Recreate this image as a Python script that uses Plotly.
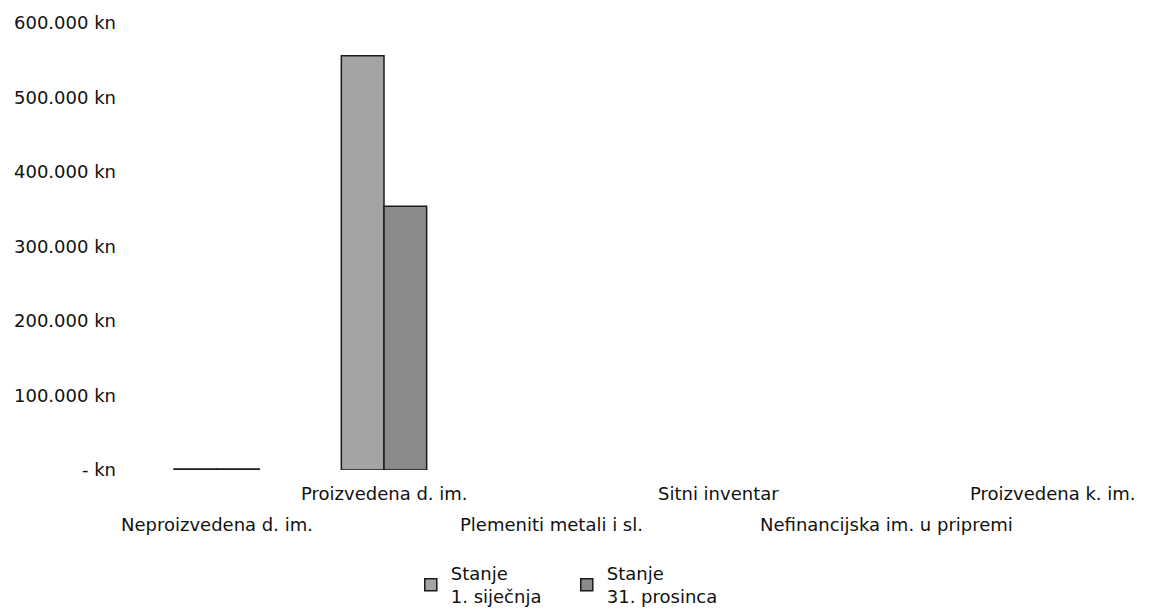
import plotly.graph_objects as go

categories = ["Neproizvedena d. im.", "Proizvedena d. im.", "Plemeniti metali i sl.",
              "Sitni inventar", "Nefinancijska im. u pripremi", "Proizvedena k. im."]
series_names = ["Stanje<br>1. siječnja", "Stanje<br>31. prosinca"]
values_start = [1500, 556000, None, None, None, None]
values_end = [1500, 354000, None, None, None, None]
y_tick_vals = [0, 100000, 200000, 300000, 400000, 500000, 600000]
y_tick_text = ["- kn", "100.000 kn", "200.000 kn", "300.000 kn", "400.000 kn", "500.000 kn", "600.000 kn"]

FONT = "DejaVu Sans"
font = dict(family=FONT, size=18, color="#111111")

fig = go.Figure()
fig.add_trace(go.Bar(x=categories, y=values_start, name=series_names[0],
                     marker=dict(color="#a4a4a4", line=dict(color="#1a1a1a", width=1.5))))
fig.add_trace(go.Bar(x=categories, y=values_end, name=series_names[1],
                     marker=dict(color="#8a8a8a", line=dict(color="#1a1a1a", width=1.5))))

# staggered category labels (upper row for odd indices, lower row for even)
for i, c in enumerate(categories):
    fig.add_annotation(x=c, xref="x", y=0, yref="paper", text=c, showarrow=False,
                       xanchor="center", yanchor="middle",
                       yshift=-23 if i % 2 == 1 else -54,
                       font=font)

fig.update_layout(
    width=1141, height=604,
    margin=dict(l=125, r=12, t=15, b=142, autoexpand=False),
    plot_bgcolor="white", paper_bgcolor="white",
    font=font,
    barmode="group", bargap=0.49, bargroupgap=0,
    showlegend=True,
    legend=dict(orientation="h", xref="container", yref="container",
                x=0.353, xanchor="left", y=0.045, yanchor="middle",
                font=dict(family=FONT, size=18, color="#111111"),
                tracegroupgap=0, itemwidth=30, entrywidth=111, entrywidthmode="pixels"),
    xaxis=dict(range=[-0.5, 5.5], showticklabels=False, showgrid=False, zeroline=False,
               showline=False, ticks="", automargin=False),
    yaxis=dict(range=[0, 600000], tickmode="array", tickvals=y_tick_vals, ticktext=y_tick_text,
               showgrid=False, zeroline=False, showline=False, ticks="",
               ticklabelstandoff=16, automargin=False),
)

fig.write_html("out.html")
